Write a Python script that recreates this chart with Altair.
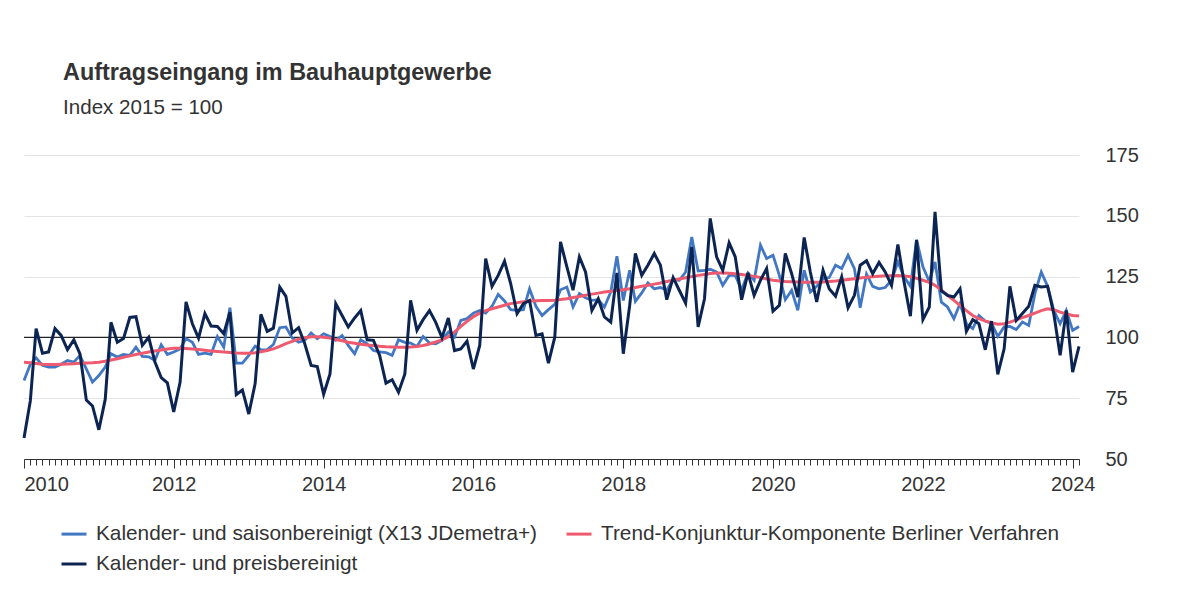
import altair as alt
import pandas as pd

# Monthly observations, Jan 2010 .. Feb 2024
months = pd.date_range("2010-01-01", periods=170, freq="MS")

S_BLUE = "Kalender- und saisonbereinigt (X13 JDemetra+)"
S_TREND = "Trend-Konjunktur-Komponente Berliner Verfahren"
S_DARK = "Kalender- und preisbereinigt"

saison = [
    82.3, 89.0, 91.6, 88.5, 87.8, 87.8, 89.0, 90.5, 89.8, 92.6, 87.0, 81.6,
    84.3, 87.8, 93.3, 91.9, 93.0, 92.6, 96.0, 92.2, 92.0, 90.5, 97.0, 93.0,
    94.0, 95.3, 99.5, 98.0, 93.0, 93.5, 93.0, 100.4, 96.0, 112.2, 89.4, 89.4,
    92.6, 96.4, 94.9, 95.0, 97.1, 104.0, 104.3, 99.7, 98.0, 98.8, 101.8, 99.5,
    101.5, 100.4, 98.8, 100.8, 96.7, 93.3, 99.0, 97.4, 94.6, 94.0, 93.7, 92.6,
    99.0, 98.0, 97.7, 96.3, 100.4, 97.7, 97.4, 98.8, 102.2, 100.1, 107.0, 107.7,
    110.0, 111.1, 110.0, 112.8, 117.7, 115.0, 111.4, 111.1, 111.4, 120.0, 112.8, 109.0,
    111.4, 113.6, 119.6, 120.7, 112.5, 118.0, 116.3, 115.2, 115.5, 112.5, 118.7, 133.4,
    115.2, 127.6, 114.8, 118.3, 122.4, 120.0, 120.5, 119.4, 123.8, 123.5, 126.9, 141.3,
    127.3, 127.6, 128.0, 126.9, 121.4, 125.5, 125.5, 119.6, 126.5, 123.5, 137.9, 132.4,
    133.8, 125.5, 115.5, 119.4, 111.1, 127.6, 118.7, 121.0, 124.2, 124.6, 129.7, 128.3,
    133.8, 128.3, 112.2, 126.0, 121.0, 120.0, 120.5, 123.5, 131.0, 124.9, 121.0, 140.2,
    129.0, 123.0, 131.0, 114.5, 112.5, 107.7, 113.9, 105.6, 103.6, 109.0, 106.7, 105.9,
    100.4, 104.3, 104.5, 103.2, 106.3, 104.9, 118.0, 126.9, 121.0, 111.1, 105.6, 111.1,
    102.9, 104.5,
]

preis = [
    58.6, 74.0, 103.6, 93.5, 94.0, 103.6, 100.8, 95.0, 99.0, 93.2, 74.2, 71.8,
    62.0, 74.5, 106.2, 98.0, 99.5, 108.2, 108.5, 96.7, 100.0, 90.0, 83.5, 81.3,
    69.4, 81.5, 114.6, 105.6, 99.7, 109.8, 104.7, 104.5, 101.5, 110.4, 76.5, 78.4,
    68.5, 81.0, 109.5, 102.5, 103.8, 120.7, 116.9, 101.8, 104.0, 97.4, 88.5, 88.0,
    76.6, 85.0, 113.9, 109.0, 104.3, 108.0, 111.0, 99.0, 98.8, 92.6, 81.2, 82.6,
    77.5, 85.0, 115.2, 102.9, 107.3, 111.0, 106.3, 99.9, 108.0, 94.6, 95.3, 98.5,
    87.0, 96.7, 132.4, 121.0, 125.5, 131.3, 122.1, 109.8, 113.9, 115.2, 100.8, 101.5,
    89.4, 100.1, 139.3, 129.0, 119.4, 133.1, 126.9, 111.1, 115.9, 108.4, 106.3, 126.5,
    93.3, 113.0, 134.5, 125.5, 129.7, 134.5, 129.7, 115.5, 124.6, 119.4, 114.1, 137.2,
    104.3, 115.9, 148.9, 133.1, 127.6, 138.9, 133.1, 115.5, 126.5, 117.3, 123.5, 128.3,
    110.8, 113.2, 134.5, 126.2, 116.6, 141.1, 126.9, 114.6, 127.6, 120.0, 116.9, 124.9,
    112.2, 117.3, 129.7, 131.5, 126.2, 130.8, 126.9, 121.4, 138.2, 122.8, 108.7, 140.0,
    107.3, 112.5, 151.6, 119.1, 117.3, 116.6, 120.0, 102.5, 107.3, 105.6, 94.9, 106.7,
    84.8, 95.3, 121.0, 107.0, 109.8, 112.8, 121.4, 120.7, 121.0, 109.8, 92.6, 111.1,
    85.7, 96.3,
]

trend = [
    89.8, 89.6, 89.3, 89.0, 88.9, 88.9, 89.0, 89.1, 89.2, 89.4, 89.5, 89.6,
    89.8, 90.2, 90.7, 91.2, 91.8, 92.4, 93.0, 93.5, 94.0, 94.4, 94.8, 95.2,
    95.5, 95.5, 95.4, 95.2, 95.0, 94.7, 94.4, 94.2, 94.0, 93.8, 93.6, 93.5,
    93.5, 93.7, 94.1, 94.6, 95.3, 96.3, 97.4, 98.4, 99.3, 99.9, 100.3, 100.3,
    100.1, 99.7, 99.1, 98.6, 98.0, 97.6, 97.2, 96.9, 96.7, 96.4, 96.2, 96.1,
    96.0, 96.0, 96.1, 96.3, 96.7, 97.3, 98.1, 99.0, 100.3, 102.2, 104.5, 106.6,
    108.5, 110.0, 111.0, 111.8, 112.5, 113.2, 113.9, 114.3, 114.7, 115.0, 115.1, 115.2,
    115.2, 115.3, 115.6, 115.9, 116.4, 116.8, 117.3, 117.8, 118.2, 118.7, 119.0, 119.3,
    119.6, 120.0, 120.5, 121.0, 121.4, 121.9, 122.4, 123.0, 123.5, 124.0, 124.5, 125.0,
    125.5, 125.9, 126.3, 126.5, 126.5, 126.4, 126.2, 125.9, 125.5, 125.1, 124.6, 124.0,
    123.5, 123.2, 123.0, 122.9, 122.8, 122.7, 122.7, 122.7, 122.8, 123.0, 123.2, 123.5,
    123.8, 124.1, 124.4, 124.7, 124.9, 125.1, 125.3, 125.4, 125.5, 125.3, 124.9, 124.3,
    123.5, 122.6, 121.4, 119.5, 117.3, 115.2, 113.2, 111.0, 109.0, 107.7, 106.7, 106.0,
    105.4, 105.6, 106.3, 107.2, 108.1, 109.0, 110.0, 111.0, 111.8, 111.4, 110.4, 109.6,
    109.0, 108.8,
]

y_ticks = [50, 75, 100, 125, 150, 175]
reference_value = [100]

COL_BLUE = "#4277C4"
COL_TREND = "#F05A6E"
COL_DARK = "#0C2452"
TEXT = "#333333"
FONT = "Liberation Sans"

rows = []
for name, vals in [(S_BLUE, saison), (S_TREND, trend), (S_DARK, preis)]:
    for d, v in zip(months, vals):
        rows.append({"date": d.strftime("%Y-%m-%dT00:00:00"), "value": v, "series": name})
df = pd.DataFrame(rows)

test = "month(datum.value) == 0 && year(datum.value) % 2 == 0"

x_enc = alt.X(
    "date:T",
    scale=alt.Scale(nice=False),
    axis=alt.Axis(
        title=None,
        orient="bottom",
        tickCount={"interval": "month", "step": 1},
        labelExpr=f"{test} ? timeFormat(datum.value, '%Y') : ''",
        tickSize={"condition": {"test": test, "value": 9}, "value": 6},
        tickColor=TEXT,
        tickWidth=1,
        domainColor=TEXT,
        domainWidth=1,
        grid=False,
        labelOverlap=False,
        labelFlush=True,
        labelFontSize=20,
        labelColor=TEXT,
        labelPadding=6,
    ),
)

y_enc = alt.Y(
    "value:Q",
    scale=alt.Scale(domain=[50, 175], nice=False, zero=False),
    axis=alt.Axis(
        title=None,
        orient="right",
        values=y_ticks,
        domain=False,
        ticks=False,
        tickSize=0,
        labelPadding=26,
        labelFontSize=20,
        labelColor=TEXT,
        gridColor="#e4e4e4",
        gridWidth=1,
    ),
)

color = alt.Color(
    "series:N",
    scale=alt.Scale(domain=[S_BLUE, S_TREND, S_DARK], range=[COL_BLUE, COL_TREND, COL_DARK]),
    legend=alt.Legend(
        title=None,
        orient="none",
        legendX=36,
        legendY=365,
        direction="horizontal",
        columns=2,
        symbolType="stroke",
        symbolSize=625,
        symbolStrokeWidth=3,
        labelFontSize=20.8,
        labelColor=TEXT,
        labelOffset=8,
        columnPadding=22,
        rowPadding=6,
        padding=0,
        labelLimit=600,
    ),
)

base = alt.Chart(df)

rule = alt.Chart(pd.DataFrame({"ref": reference_value})).mark_rule(
    color="#222222", strokeWidth=1.2
).encode(y=alt.Y("ref:Q", scale=alt.Scale(domain=[50, 175], nice=False, zero=False)))

widths = {S_BLUE: 2.8, S_TREND: 3.0, S_DARK: 3.0}
layers = [rule]
for name in [S_BLUE, S_TREND, S_DARK]:
    layers.append(
        base.transform_filter(alt.datum.series == name)
        .mark_line(strokeWidth=widths[name])
        .encode(x=x_enc, y=y_enc, color=color)
    )

chart = (
    alt.layer(*layers)
    .properties(
        width=1055,
        height=304,
        padding={"left": 16, "top": 147, "right": 60, "bottom": 130},
        autosize=alt.AutoSizeParams(type="none"),
        title=alt.TitleParams(
            text="Auftragseingang im Bauhauptgewerbe",
            subtitle="Index 2015 = 100",
            anchor="start",
            frame="group",
            dx=39,
            offset=25,
            fontSize=23.4,
            fontWeight="bold",
            font=FONT,
            color=TEXT,
            subtitleFont=FONT,
            subtitleFontSize=20.6,
            subtitleColor=TEXT,
            subtitlePadding=13,
        ),
    )
    .configure(font=FONT)
    .configure_view(stroke=None)
)

chart.save("out.html", embed_options={"renderer": "svg", "actions": False})
